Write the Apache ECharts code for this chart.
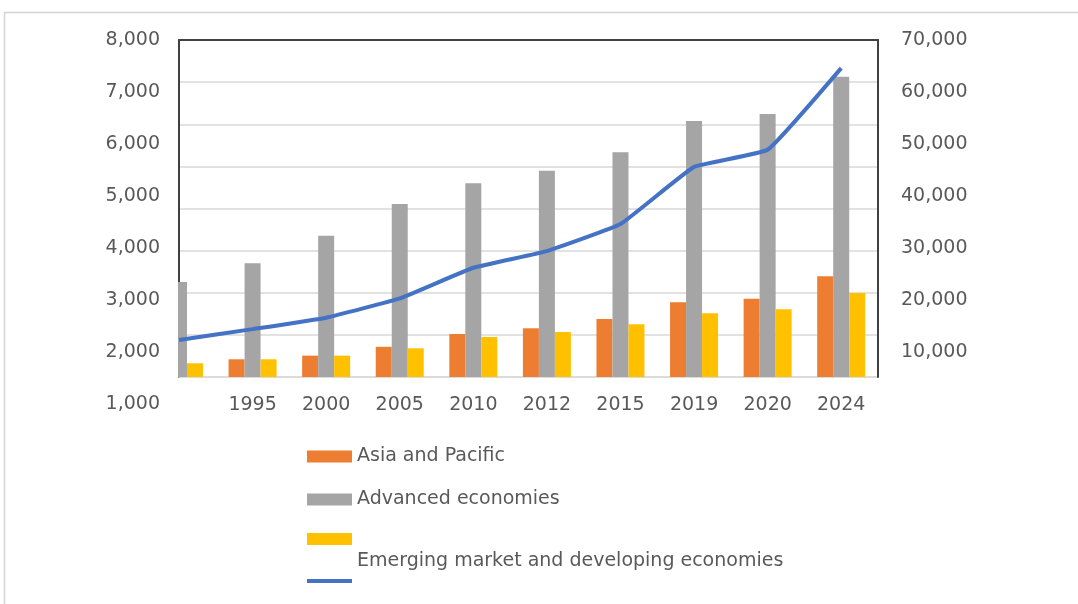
<!DOCTYPE html>
<html>
<head>
<meta charset="utf-8">
<script src="https://cdn.jsdelivr.net/npm/echarts@6/dist/echarts.min.js"></script>
<style>
  html, body { margin: 0; padding: 0; background: #fff; }
  #chart { width: 1078px; height: 604px; }
</style>
</head>
<body>
<div id="chart"></div>
<script>
// data (bars on the left scale, line on the right one)
const years = ['1990', '1995', '2000', '2005', '2010', '2012', '2015', '2019', '2020', '2024'];
const asiaPacific = [1700, 1860, 1930, 2100, 2346, 2456, 2635, 2956, 3025, 3456];
const advanced = [3346, 3706, 4237, 4846, 5244, 5487, 5840, 6442, 6577, 7294];
const emerging = [1783, 1860, 1930, 2071, 2288, 2385, 2533, 2744, 2821, 3135];
const lineValues = [12300, 14400, 16600, 20300, 26200, 29400, 34600, 45600, 48900, 64600];

// tick labels
const leftTicks = { min: 1000, max: 8000, step: 1000 };
const rightTicks = { min: 0, max: 70000, step: 10000 };

// layout
const plotLeft = 179, plotRight = 878, plotTop = 40, plotBottom = 377;
const labelBottom = 404;
const W = 1078, H = 604;

const textColor = '#595959';
const font = 'DejaVu Sans';
const borderColor = '#404040';
const gridColor = '#d9d9d9';

// the printed labels run lower than the plot, so the data axes take their extent from them
const span = (plotBottom - plotTop) / (labelBottom - plotTop);
const leftDataMin = leftTicks.max - (leftTicks.max - leftTicks.min) * span;
const rightDataMin = rightTicks.max - (rightTicks.max - rightTicks.min) * span;

const pairs = arr => arr.map((v, i) => [i, v]);

const chart = echarts.init(document.getElementById('chart'));

chart.setOption({
  animation: false,
  backgroundColor: '#fff',
  graphic: [
    {
      type: 'rect', silent: true,
      shape: { x: 4.5, y: 12.5, width: 1100, height: 620 },
      style: { fill: 'none', stroke: '#d4d4d4', lineWidth: 1.5 }
    },
    {
      // bars on a value axis are not clipped at the plot's left edge, hide what spills out
      type: 'rect', silent: true, z: 3,
      shape: { x: 100, y: plotTop + 1, width: plotLeft - 1 - 100, height: plotBottom - plotTop + 2 },
      style: { fill: '#fff' }
    }
  ],
  grid: [
    { left: plotLeft, right: W - plotRight, top: plotTop, bottom: H - plotBottom },
    { left: plotLeft, right: W - plotRight, top: plotTop, bottom: H - labelBottom }
  ],
  xAxis: [
    {
      type: 'value', gridIndex: 0, min: 0, max: years.length - 0.5, interval: 1,
      axisLine: { lineStyle: { color: gridColor, width: 1.5 } },
      axisTick: { show: false },
      splitLine: { show: false },
      axisLabel: {
        margin: 19, color: textColor, fontFamily: font, fontSize: 19,
        formatter: v => {
          const i = Math.round(v);
          if (Math.abs(v - i) > 1e-6 || i === 0) return '';
          return years[i];
        }
      }
    },
    {
      type: 'value', gridIndex: 0, position: 'top', min: 0, max: years.length - 0.5, z: 4,
      axisLine: { lineStyle: { color: borderColor, width: 2 } },
      axisTick: { show: false }, axisLabel: { show: false }, splitLine: { show: false }
    },
    { type: 'value', gridIndex: 1, show: false, min: 0, max: 1 }
  ],
  yAxis: [
    {
      // gridlines and left border
      type: 'value', gridIndex: 0, min: 0, max: 8, interval: 1,
      axisLine: { show: true, lineStyle: { color: borderColor, width: 2 } },
      axisTick: { show: false }, axisLabel: { show: false },
      splitLine: { lineStyle: { color: gridColor, width: 1.5 } }
    },
    { type: 'value', gridIndex: 0, show: false, min: leftDataMin, max: leftTicks.max },
    {
      type: 'value', gridIndex: 0, position: 'right', min: rightDataMin, max: rightTicks.max, z: 4,
      axisLine: { show: true, lineStyle: { color: borderColor, width: 2 } },
      axisTick: { show: false }, axisLabel: { show: false }, splitLine: { show: false }
    },
    {
      type: 'value', gridIndex: 1, min: leftTicks.min, max: leftTicks.max, interval: leftTicks.step,
      z: 10,
      axisLine: { show: false }, axisTick: { show: false }, splitLine: { show: false },
      axisLabel: {
        margin: 19, color: textColor, fontFamily: font, fontSize: 19,
        formatter: v => v.toLocaleString('en-US')
      }
    },
    {
      type: 'value', gridIndex: 1, position: 'right', min: rightTicks.min, max: rightTicks.max,
      interval: rightTicks.step,
      axisLine: { show: false }, axisTick: { show: false }, splitLine: { show: false },
      axisLabel: {
        margin: 23, color: textColor, fontFamily: font, fontSize: 19, showMinLabel: false,
        formatter: v => v.toLocaleString('en-US')
      }
    }
  ],
  legend: [
    {
      data: ['Asia and Pacific', 'Advanced economies'],
      orient: 'vertical', left: 307, top: 447, padding: 0, itemGap: 24,
      icon: 'rect', itemWidth: 45, itemHeight: 12, selectedMode: false,
      textStyle: { color: textColor, fontFamily: font, fontSize: 19 }
    },
    {
      // the label sits below its swatch, as in the picture
      data: ['Emerging market and developing economies'],
      left: 307, top: 506, padding: 0,
      icon: 'rect', itemWidth: 45, itemHeight: 12, selectedMode: false,
      formatter: name => '\n\n' + name,
      textStyle: { color: textColor, fontFamily: font, fontSize: 19, lineHeight: 22 }
    },
    {
      data: ['Series 4'],
      left: 307, top: 579, padding: 0,
      icon: 'rect', itemWidth: 45, itemHeight: 4, selectedMode: false,
      formatter: () => '',
      textStyle: { fontSize: 19, fontFamily: font }
    }
  ],
  series: [
    {
      name: 'Asia and Pacific', type: 'bar', xAxisIndex: 0, yAxisIndex: 1,
      data: pairs(asiaPacific), barWidth: 16, barGap: '0%',
      itemStyle: { color: '#ed7d31' }
    },
    {
      name: 'Advanced economies', type: 'bar', xAxisIndex: 0, yAxisIndex: 1,
      data: pairs(advanced), barWidth: 16, barGap: '0%',
      itemStyle: { color: '#a5a5a5' }
    },
    {
      name: 'Emerging market and developing economies', type: 'bar', xAxisIndex: 0, yAxisIndex: 1,
      data: pairs(emerging), barWidth: 16, barGap: '0%',
      itemStyle: { color: '#ffc000' }
    },
    {
      name: 'Series 4', type: 'line', xAxisIndex: 0, yAxisIndex: 2,
      data: pairs(lineValues), smooth: 0.1, symbol: 'none', z: 5,
      lineStyle: { color: '#4472c4', width: 4 },
      itemStyle: { color: '#4472c4' }
    }
  ]
});
</script>
</body>
</html>
